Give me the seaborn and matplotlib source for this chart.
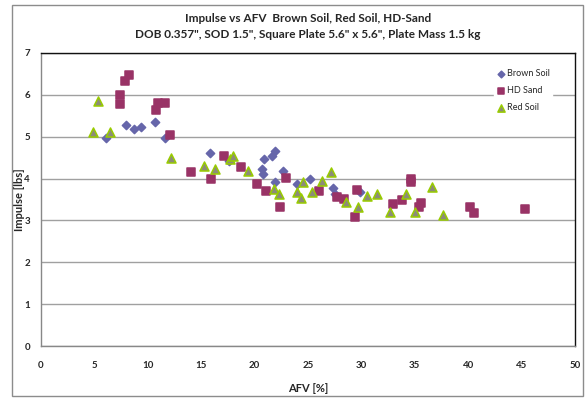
import matplotlib
matplotlib.use("Agg")
import matplotlib.pyplot as plt
import seaborn as sns
import pandas as pd
from matplotlib.patches import Rectangle

brown_x = [6.1, 8.0, 8.7, 9.4, 10.7, 11.6, 15.8, 17.6, 20.9, 21.6, 21.9, 20.7, 20.8, 22.7, 21.9, 24.0, 25.2, 27.3, 27.5, 29.9]
brown_y = [4.96, 5.27, 5.18, 5.23, 5.34, 4.97, 4.61, 4.41, 4.46, 4.53, 4.65, 4.22, 4.10, 4.18, 3.93, 3.86, 4.00, 3.77, 3.62, 3.69]

sand_x = [8.2, 7.9, 7.4, 7.4, 11.0, 11.6, 10.8, 12.1, 14.0, 15.9, 17.1, 18.7, 20.2, 21.1, 22.4, 22.9, 26.0, 27.7, 28.4,
          29.6, 29.4, 33.0, 33.8, 34.6, 34.6, 35.6, 35.4, 40.2, 40.5, 45.3]
sand_y = [6.48, 6.32, 6.00, 5.78, 5.81, 5.81, 5.65, 5.05, 4.15, 3.99, 4.53, 4.27, 3.86, 3.71, 3.31, 4.02, 3.71, 3.55, 3.51,
          3.72, 3.08, 3.39, 3.50, 4.00, 3.91, 3.41, 3.32, 3.31, 3.18, 3.27]

red_x = [5.3, 4.9, 6.5, 12.2, 15.3, 16.3, 17.7, 18.0, 19.4, 21.8, 22.3, 24.5, 24.0, 24.3, 25.4, 26.3, 27.2, 28.6, 29.7,
         30.5, 31.5, 32.7, 34.2, 35.0, 36.6, 37.6]
red_y = [5.85, 5.11, 5.11, 4.48, 4.29, 4.22, 4.47, 4.55, 4.17, 3.74, 3.62, 3.92, 3.69, 3.54, 3.69, 3.95, 4.15, 3.45, 3.31,
         3.59, 3.64, 3.20, 3.62, 3.20, 3.79, 3.14]

series_names = ["Brown Soil", "HD Sand", "Red Soil"]
x_ticks = [0, 5, 10, 15, 20, 25, 30, 35, 40, 45, 50]
y_ticks = [0, 1, 2, 3, 4, 5, 6, 7]

df = pd.concat([
    pd.DataFrame({"AFV": brown_x, "Impulse": brown_y, "Series": series_names[0]}),
    pd.DataFrame({"AFV": sand_x, "Impulse": sand_y, "Series": series_names[1]}),
    pd.DataFrame({"AFV": red_x, "Impulse": red_y, "Series": series_names[2]}),
], ignore_index=True)

sns.set_style("white")
plt.rcParams["font.family"] = ["Lato", "DejaVu Sans"]

fig = plt.figure(figsize=(5.86, 3.98), dpi=100)
fig.patches.append(Rectangle((12 / 586, 2 / 398), 571 / 586, 391 / 398, transform=fig.transFigure,
                             fill=False, edgecolor="#8c8c8c", linewidth=1.0, zorder=0))
ax = fig.add_axes([41 / 586, 52 / 398, 534 / 586, 293 / 398])

palette = {"Brown Soil": "#6666aa", "HD Sand": "#993366", "Red Soil": "#8c8c78"}
markers = {"Brown Soil": "D", "HD Sand": "s", "Red Soil": "^"}
sizes_pts = {"Brown Soil": 4.2, "HD Sand": 5.8, "Red Soil": 6.5}
edges = {"Brown Soil": "#6666aa", "HD Sand": "#993366", "Red Soil": "#99cc00"}

for name in series_names:
    sub = df[df["Series"] == name]
    sns.scatterplot(data=sub, x="AFV", y="Impulse", ax=ax, marker=markers[name],
                    color=palette[name], edgecolor=edges[name], linewidth=1.1,
                    s=sizes_pts[name] ** 2, label=name, zorder=3)

ax.set_xlim(0, 50)
ax.set_ylim(0, 7)
ax.set_xticks(x_ticks)
ax.set_yticks(y_ticks)
ax.set_xticklabels([str(v) for v in x_ticks], fontweight="bold", fontsize=7)
ax.set_yticklabels([str(v) for v in y_ticks], fontweight="bold", fontsize=7)
ax.tick_params(axis="both", direction="out", length=3, width=0.8, color="#888888", pad=5)
ax.tick_params(axis="x", pad=8)
ax.yaxis.grid(True, color="#a0a0a0", linewidth=1.0)
ax.set_axisbelow(True)
for side in ["left", "bottom"]:
    ax.spines[side].set_color("#888888")
    ax.spines[side].set_linewidth(1.0)
for side in ["top", "right"]:
    ax.spines[side].set_color("#111111")
    ax.spines[side].set_linewidth(1.0)

ax.set_xlabel("AFV [%]", fontweight="bold", fontsize=8, labelpad=9)
ax.set_ylabel("Impulse [lbs]", fontweight="bold", fontsize=8)
ax.yaxis.set_label_coords(-0.03, 0.5)

fig.text(308 / 586, 1 - 18 / 398, "Impulse vs AFV  Brown Soil, Red Soil, HD-Sand",
         ha="center", va="center", fontsize=8.5, fontweight="bold")
fig.text(308 / 586, 1 - 34 / 398, "DOB 0.357\", SOD 1.5\", Square Plate 5.6\" x 5.6\", Plate Mass 1.5 kg",
         ha="center", va="center", fontsize=8.5, fontweight="bold")

leg = ax.legend(loc="upper left", bbox_to_anchor=(0.84, 0.97), frameon=True, fontsize=6.5,
                handletextpad=0.1, labelspacing=0.9, borderpad=0.3, handlelength=1.0, markerscale=0.8)
leg.get_frame().set_facecolor("white")
leg.get_frame().set_edgecolor("white")
leg.get_frame().set_alpha(1.0)

fig.savefig("out.png", dpi=100)
